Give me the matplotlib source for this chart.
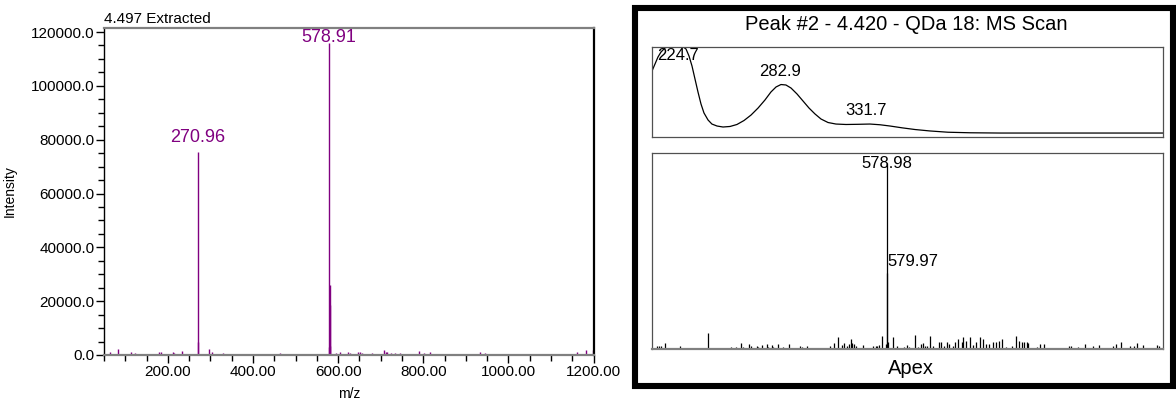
import matplotlib
matplotlib.use("Agg")
import matplotlib.pyplot as plt
from matplotlib.patches import Rectangle
from matplotlib.ticker import MultipleLocator, FormatStrFormatter

plt.rcParams["font.family"] = ["Liberation Sans", "DejaVu Sans"]

PURPLE = "#800080"

# left: extracted mass spectrum at 4.497 min
left_mz = [64.6, 82, 105, 114, 121.7, 143.7, 153, 180, 184, 211.7, 215.5, 232.8,
           270.96, 271.96, 287, 297, 302.6, 328.6, 363.7, 375, 464, 469.6, 477, 489,
           577.9, 578.91, 579.91, 580.91, 581.9, 596, 604, 622.6, 627, 645.8, 650.5,
           656, 664, 679.5, 706.8, 711.5, 716, 724, 734.5, 744.5, 760, 789.6, 802,
           816, 862, 904, 934.5, 944, 1088, 1107, 1160.4, 1182, 1198]
left_int = [1240, 2200, 500, 1000, 750, 500, 500, 1240, 1000, 1000, 750, 1500,
            75500, 5000, 500, 2200, 1240, 750, 500, 500, 750, 500, 500, 500,
            3000, 115800, 26000, 18500, 3500, 750, 1240, 1240, 620, 1000, 1240,
            750, 500, 750, 1750, 1240, 1000, 750, 620, 750, 500, 1500, 750,
            1240, 500, 500, 1240, 750, 500, 500, 1000, 1750, 2000]
left_labels = ["270.96", "578.91"]
left_label_mz = [270.96, 578.91]
left_label_off = [4, -2]

# right top: UV spectrum of peak #2
uv_nm = [210.0, 211.7, 213.4, 215.1, 217.4, 220.2, 223.6, 227.0, 229.3, 231.0, 232.7,
         234.4, 236.1, 237.8, 239.5, 241.8, 244.0, 246.9, 250.3, 254.3, 258.2, 262.2,
         266.2, 270.2, 274.1, 277.5, 280.4, 283.2, 286.0, 288.9, 292.3, 295.7, 299.1,
         302.5, 305.9, 309.9, 314.4, 320.1, 326.9, 333.7, 339.4, 345.1, 351.9, 359.3,
         367.8, 378.0, 390.5, 407.5, 500.0]
uv_abs = [0.733, 0.811, 0.889, 0.944, 0.99, 1.01, 1.02, 1.01, 0.978, 0.9, 0.789,
          0.644, 0.5, 0.367, 0.267, 0.189, 0.144, 0.122, 0.111, 0.117, 0.139, 0.183,
          0.244, 0.322, 0.411, 0.5, 0.556, 0.583, 0.578, 0.544, 0.478, 0.4, 0.322,
          0.256, 0.2, 0.161, 0.144, 0.139, 0.141, 0.144, 0.136, 0.122, 0.102, 0.083,
          0.067, 0.053, 0.047, 0.044, 0.044]
uv_labels = ["224.7", "282.9", "331.7"]
uv_label_nm = [224.7, 282.9, 331.7]
uv_label_y = [0.99, 0.583, 0.144]

# right bottom: MS scan at apex (relative intensity)
apex_mz = [60.5, 66, 70, 79, 97, 113, 176, 198, 227, 232, 239, 250, 254, 268, 273,
           285.5, 289, 297, 308, 311, 319, 322, 333.5, 345, 358, 383, 387, 398, 421,
           450, 459.5, 468.5, 477, 482, 489, 493, 498, 501, 505, 509, 525, 547, 554,
           557, 561, 567, 576, 578.98, 579.97, 581, 592, 601, 617, 623, 628, 634, 642,
           649, 654.5, 659, 663.6, 669, 675.5, 682, 696, 700, 707, 714, 718, 727, 732,
           739, 747, 750, 757, 766, 773, 779, 788, 795, 801.5, 807.5, 817, 824, 831,
           837, 846.5, 860, 869, 875, 882, 887, 893, 896, 915.5, 923, 932, 960.6, 975,
           988, 994, 1008.5, 1024, 1041.5, 1056, 1087, 1094, 1104.6, 1125.5, 1134.5,
           1140.5, 1155, 1186, 1190]
apex_int = [1.4, 1.4, 1.4, 3.2, 0.7, 1.4, 8.6, 0.4, 0.9, 0.7, 0.9, 3.2, 1.1, 2.7, 1.8,
            1.4, 0.9, 2.1, 2.9, 0.9, 2.1, 0.9, 2.7, 0.9, 2.5, 1.8, 0.9, 1.4, 0.7,
            1.4, 3.2, 6.3, 2.1, 3.2, 1.4, 2.5, 5.4, 3.2, 2.5, 1.8, 2.1, 1.4, 1.8,
            1.8, 2.1, 6.8, 2.5, 100, 41, 3.6, 6.3, 1.8, 0.9, 2.1, 0.9, 0.7, 7.5,
            0.9, 2.7, 3.2, 1.8, 1.4, 7.2, 1.4, 3.6, 3.6, 1.4, 3.6, 2.5, 1.4, 3.6,
            5.4, 3.6, 6.3, 4.5, 6.3, 2.1, 3.6, 6.3, 5.4, 2.5, 2.5, 3.6, 3.6, 4.5,
            5.4, 0.9, 1.4, 7.2, 4.5, 3.6, 3.6, 3.6, 3.2, 0.9, 2.7, 2.7, 0.5, 0.5,
            1.4, 1.8, 0.9, 2.5, 1.8, 2.1, 1.4, 2.7, 3.9, 1.8, 1.8,
            3.2, 2.1, 2.1, 1.4]
apex_labels = ["578.98", "579.97"]
apex_label_mz = [578.98, 579.97]

W, H = 1176, 401
fig = plt.figure(figsize=(W / 100, H / 100), dpi=100)


def px_axes(x0, y0, x1, y1):
    return fig.add_axes([x0 / W, 1 - y1 / H, (x1 - x0) / W, (y1 - y0) / H])


# ---- left panel
ax = px_axes(104, 28, 593.5, 355)
ax.vlines(left_mz, 0, left_int, color=PURPLE, lw=1.0)
ax.set_xlim(50, 1200)
ax.set_ylim(0, 121500)
ax.xaxis.set_major_locator(MultipleLocator(200))
ax.xaxis.set_minor_locator(MultipleLocator(50))
ax.yaxis.set_major_locator(MultipleLocator(20000))
ax.yaxis.set_minor_locator(MultipleLocator(5000))
ax.xaxis.set_major_formatter(FormatStrFormatter("%.2f"))
ax.yaxis.set_major_formatter(FormatStrFormatter("%.1f"))
ax.set_xticks([200, 400, 600, 800, 1000, 1200])
ax.tick_params(which="both", direction="out", labelsize=11, color="black", width=1)
ax.tick_params(which="major", length=6, pad=1)
ax.tick_params(which="minor", length=4)
ax.spines["left"].set_color("black")
ax.spines["left"].set_linewidth(1.0)
ax.spines["right"].set_color("black")
ax.spines["right"].set_linewidth(1.6)
for s in ("top", "bottom"):
    ax.spines[s].set_color("#808080")
    ax.spines[s].set_linewidth(1.6)
ax.set_ylabel("Intensity", fontsize=10)
ax.yaxis.set_label_coords(-0.178, 0.5)
ax.set_xlabel("m/z", fontsize=10)
ax.xaxis.set_label_coords(0.5, -0.118)
ax.xaxis.label.set_va("center")
ax.text(0, 1.028, "4.497 Extracted", transform=ax.transAxes, fontsize=11,
        va="center", ha="left")
for lab, mz, off in zip(left_labels, left_label_mz, left_label_off):
    y = left_int[left_mz.index(mz)]
    ax.annotate(lab, (mz, y), xytext=(0, off), textcoords="offset points",
                ha="center", va="bottom", color=PURPLE, fontsize=13)

# ---- right panel frame
fig.add_artist(Rectangle((635 / W, 1 - 386 / H), (1173 - 635) / W, (386 - 8.3) / H,
                         transform=fig.transFigure, fill=False, ec="black", lw=4.4))
fig.text(906 / W, 1 - 25 / H, "Peak #2 - 4.420 - QDa 18: MS Scan", fontsize=14.5,
         ha="center", va="center")
fig.text(911 / W, 1 - 369 / H, "Apex", fontsize=14.5, ha="center", va="center")

# UV spectrum
uv = px_axes(652, 47, 1163, 137)
uv.plot(uv_nm, uv_abs, color="black", lw=0.9)
uv.set_xlim(210, 500)
uv.set_ylim(0, 1.0)
uv.set_xticks([])
uv.set_yticks([])
for s in uv.spines.values():
    s.set_color("#505050")
    s.set_linewidth(0.9)
for lab, nm, y in zip(uv_labels, uv_label_nm, uv_label_y):
    if y > 0.9:
        uv.text(nm, y, lab, ha="center", va="top", fontsize=12)
    else:
        uv.annotate(lab, (nm, y), xytext=(0, 4), textcoords="offset points",
                    ha="center", va="bottom", fontsize=12)

# apex MS
ms = px_axes(652, 153, 1163, 349)
ms.vlines(apex_mz, 0, apex_int, color="black", lw=0.9)
ms.set_xlim(50, 1200)
ms.set_ylim(0, 105.4)
ms.set_xticks([])
ms.set_yticks([])
for s in ms.spines.values():
    s.set_color("#505050")
    s.set_linewidth(0.9)
ms.spines["bottom"].set_color("#808080")
ms.spines["bottom"].set_linewidth(1.6)
ms.text(apex_label_mz[0], apex_int[apex_mz.index(apex_label_mz[0])], apex_labels[0],
        ha="center", va="center", fontsize=12)
ms.annotate(apex_labels[1], (apex_label_mz[1], apex_int[apex_mz.index(apex_label_mz[1])]),
            xytext=(0, 3), textcoords="offset points", ha="left", va="bottom", fontsize=12)

fig.savefig("out.png", dpi=100)
